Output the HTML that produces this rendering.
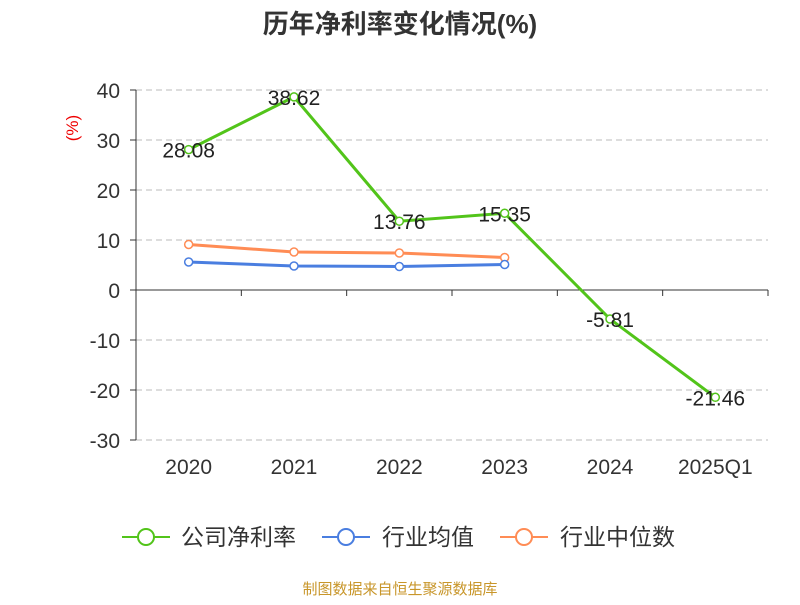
<!DOCTYPE html>
<html><head><meta charset="utf-8"><style>
body{margin:0;background:#fff;}
svg{font-family:"Liberation Sans","Noto Sans CJK SC",sans-serif;}
</style></head><body>
<svg width="800" height="600" id="c">
<text x="400" y="33" text-anchor="middle" font-size="26" font-weight="bold" fill="#333">历年净利率变化情况(%)</text>
<text x="78" y="128" text-anchor="middle" font-size="17" fill="#e00" transform="rotate(-90 78 128)">(%)</text>
<g id="grid"></g><g id="axes"></g><g id="series"></g>
<g>
<g><line x1="122" y1="537" x2="170" y2="537" stroke="#52c41a" stroke-width="2"/><circle cx="146" cy="537" r="8" fill="#fff" stroke="#52c41a" stroke-width="2"/><text x="181" y="545" font-size="23" fill="#333">公司净利率</text></g>
<g><line x1="322" y1="537" x2="370" y2="537" stroke="#4a7ee0" stroke-width="2"/><circle cx="346" cy="537" r="8" fill="#fff" stroke="#4a7ee0" stroke-width="2"/><text x="382" y="545" font-size="23" fill="#333">行业均值</text></g>
<g><line x1="500" y1="537" x2="548" y2="537" stroke="#ff8c55" stroke-width="2"/><circle cx="524" cy="537" r="8" fill="#fff" stroke="#ff8c55" stroke-width="2"/><text x="560" y="545" font-size="23" fill="#333">行业中位数</text></g>
</g>
<text x="400" y="594" text-anchor="middle" font-size="15" fill="#c8962a">制图数据来自恒生聚源数据库</text>
</svg>
<script>
const categories=["2020","2021","2022","2023","2024","2025Q1"];
const companyValues=[28.08,38.62,13.76,15.35,-5.81,-21.46];
const industryAvg=[5.6,4.8,4.7,5.1];
const industryMedian=[9.1,7.6,7.4,6.5];
const yTicks=[40,30,20,10,0,-10,-20,-30];
const NS="http://www.w3.org/2000/svg";
const x0=136,x1=768,band=(x1-x0)/categories.length;
const y=v=>290-v*5;
const xc=i=>x0+band*(i+0.5);
function mk(t,a,p){const e=document.createElementNS(NS,t);for(const k in a)e.setAttribute(k,a[k]);p.appendChild(e);return e;}
const grid=document.getElementById('grid'),axes=document.getElementById('axes'),ser=document.getElementById('series');
yTicks.forEach(v=>{
 if(v!==0){const g=mk('line',{x1:x0,x2:x1,y1:y(v),y2:y(v),stroke:'#bbb','stroke-dasharray':'6,4'},grid);
 
 }
 const t=mk('text',{x:x0-16,y:y(v)+8,'text-anchor':'end','font-size':21,fill:'#333'},axes);t.textContent=v;
 
 
 mk('line',{x1:x0-6,x2:x0,y1:y(v),y2:y(v),stroke:'#333'},axes);
});
mk('line',{x1:x0,x2:x0,y1:y(40),y2:y(-30),stroke:'#333'},axes);
mk('line',{x1:x0,x2:x1,y1:y(0),y2:y(0),stroke:'#333'},axes);
categories.forEach((c,i)=>{
 mk('line',{x1:x0+band*(i+1),x2:x0+band*(i+1),y1:y(0),y2:y(0)+6,stroke:'#333'},axes);
 const t=mk('text',{x:xc(i),y:474,'text-anchor':'middle','font-size':21,fill:'#333'},axes);t.textContent=c;
 
 
});
function series(vals,color,name,labels){
 const p=mk('polyline',{points:vals.map((v,i)=>xc(i)+','+y(v)).join(' '),fill:'none',stroke:color,'stroke-width':3},ser);
 
 
 vals.forEach((v,i)=>{
  const c=mk('circle',{cx:xc(i),cy:y(v),r:4,fill:'#fff',stroke:color,'stroke-width':1.5},ser);
  
  
  if(labels){const t=mk('text',{x:xc(i),y:y(v)+8,'text-anchor':'middle','font-size':21,fill:'#222'},ser);t.textContent=v.toFixed(2);
  
  }
 });
}
series(industryMedian,'#ff8c55','industry-median',false);
series(industryAvg,'#4a7ee0','industry-avg',false);
series(companyValues,'#52c41a','company',true);
</script>
</body></html>
